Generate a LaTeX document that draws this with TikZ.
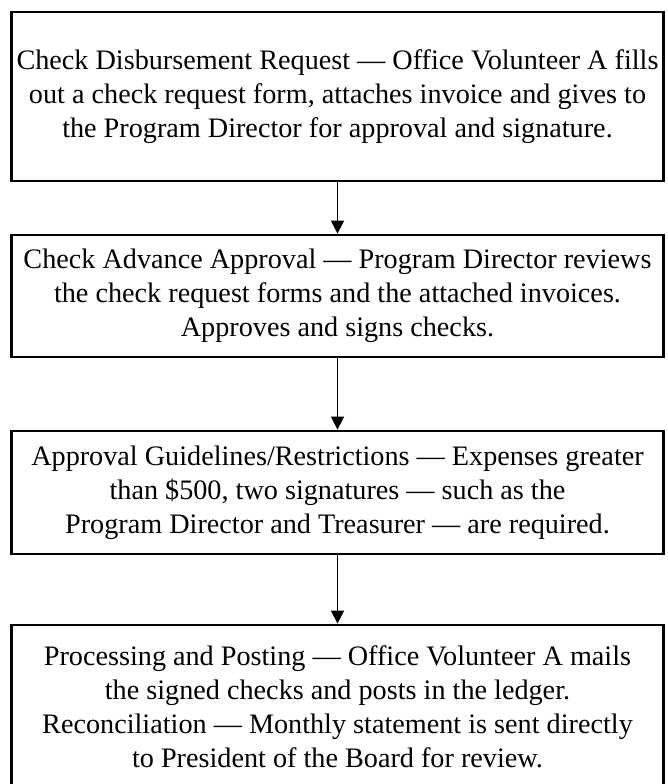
\documentclass[tikz,border=0pt]{standalone}
\usepackage{fontspec}
\setmainfont{Liberation Serif}
\usetikzlibrary{arrows.meta}

\begin{document}
\begin{tikzpicture}[x=1pt,y=-1pt,
  flowbox/.style={draw,line width=2.8pt,minimum width=652pt,align=center,
    inner sep=0pt,font=\fontsize{28.2}{34}\selectfont},
  flowarrow/.style={line width=1.6pt,-{Triangle[width=13pt,length=13pt]}}]
  \useasboundingbox (0,0) rectangle (667,784);
  \node[flowbox,minimum height=169pt] (disb) at (337.5,96.5)
    {Check Disbursement Request — Office Volunteer A fills\\
     out a check request form, attaches invoice and gives to\\
     the Program Director for approval and signature.};
  \node[flowbox,minimum height=122pt] (advance) at (337.5,296)
    {Check Advance Approval — Program Director reviews\\
     the check request forms and the attached invoices.\\
     Approves and signs checks.};
  \node[flowbox,minimum height=123pt] (guide) at (337.5,492.5)
    {Approval Guidelines/Restrictions — Expenses greater\\
     than \$500, two signatures — such as the\\
     Program Director and Treasurer — are required.};
  \node[flowbox,minimum height=164pt] (posting) at (337.5,707)
    {Processing and Posting — Office Volunteer A mails\\
     the signed checks and posts in the ledger.\\
     Reconciliation — Monthly statement is sent directly\\
     to President of the Board for review.};
  % arrows between the steps
  \draw[flowarrow] (disb) -- (advance);
  \draw[flowarrow] (advance) -- (guide);
  \draw[flowarrow] (guide) -- (posting);
\end{tikzpicture}
\end{document}
